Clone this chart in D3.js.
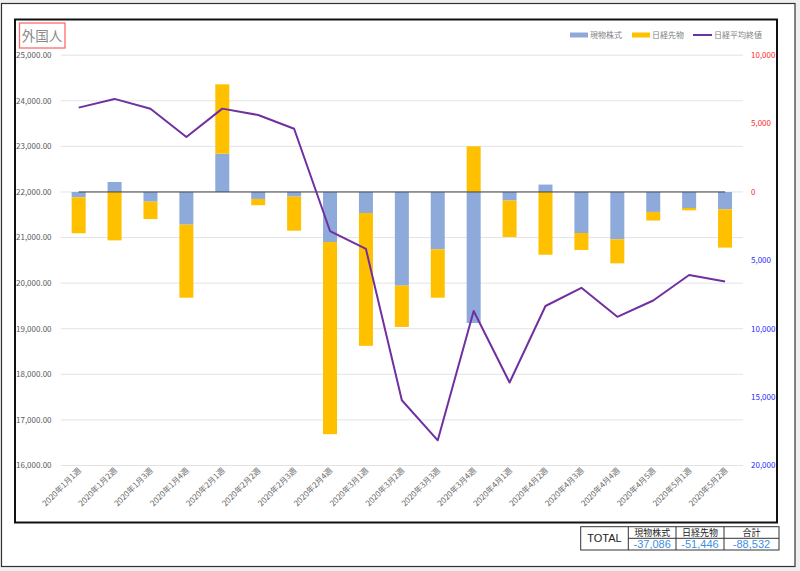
<!DOCTYPE html>
<html><head><meta charset="utf-8">
<script src="https://cdn.jsdelivr.net/npm/d3@7/dist/d3.min.js"></script>
<style>
html,body{margin:0;padding:0;background:#efefef;}
svg{display:block;}
text{font-family:"Noto Sans CJK JP","Noto Sans",sans-serif;}
.num{font-family:"Liberation Sans","Arial",sans-serif;}
</style></head>
<body>
<svg id="c" width="800" height="571"></svg>
<script>
const categories = ["2020年1月1週","2020年1月2週","2020年1月3週","2020年1月4週","2020年2月1週","2020年2月2週","2020年2月3週","2020年2月4週","2020年3月1週","2020年3月2週","2020年3月3週","2020年3月4週","2020年4月1週","2020年4月2週","2020年4月3週","2020年4月4週","2020年4月5週","2020年5月1週","2020年5月2週"];
const genbutsu = [-390, 730, -710, -2390, 2800, -510, -340, -3660, -1540, -6850, -4190, -9580, -630, 540, -3000, -3460, -1460, -1170, -1270];
const sakimono = [-2630, -3540, -1270, -5340, 5070, -460, -2490, -14050, -9710, -3020, -3540, 3340, -2660, -4590, -1240, -1760, -630, -170, -2800];
const nikkei = [23850.57, 24041.26, 23827.18, 23205.18, 23827.98, 23687.59, 23386.74, 21142.96, 20749.75, 17431.05, 16552.83, 19389.43, 17820.19, 19498.50, 19897.26, 19262.00, 19619.35, 20179.09, 20037.47];
const leftTicks = [16000,17000,18000,19000,20000,21000,22000,23000,24000,25000];
const rightTicks = [10000,5000,0,-5000,-10000,-15000,-20000];
const seriesNames = ["現物株式","日経先物","日経平均終値"];
const tableHeaders = ["現物株式","日経先物","合計"];
const tableTotals = ["-37,086","-51,446","-88,532"];
const title = "外国人";

const colors = {genbutsu:"#8eaadb", sakimono:"#ffc000", nikkei:"#7030a0"};
const svg = d3.select("#c");

// outer frame
svg.append("rect").attr("x",1.5).attr("y",3.5).attr("width",793.5).attr("height",563)
  .attr("fill","#fff").attr("stroke","#333").attr("stroke-width",1.2);
// chart box
svg.append("rect").attr("x",15).attr("y",19.5).attr("width",762).attr("height",503)
  .attr("fill","#fff").attr("stroke","#111").attr("stroke-width",2);

const x = d3.scaleBand().domain(categories).range([60.7,743]).paddingInner(0.61).paddingOuter(0.305);
const yL = d3.scaleLinear().domain([16000,25000]).range([465.5,55.2]);
const yR = d3.scaleLinear().domain([-20000,10000]).range([465.5,55.2]);
const cx = d => x(d) + x.bandwidth()/2;

// gridlines
svg.append("g").selectAll("line").data(leftTicks).join("line")
  .attr("x1",60.7).attr("x2",743).attr("y1",d=>yL(d)).attr("y2",d=>yL(d))
  .attr("stroke","#e3e3e3").attr("stroke-width",1);

// left axis labels
svg.append("g").selectAll("text").data(leftTicks).join("text")
  .attr("x",16).attr("y",d=>yL(d)).attr("dy","0.35em")
  .attr("font-size",8).attr("fill","#595959")
  .text(d=>d3.format(",.2f")(d));

// right axis labels
svg.append("g").selectAll("text").data(rightTicks).join("text")
  .attr("x",751).attr("y",d=>yR(d)).attr("dy","0.35em")
  .attr("font-size",8).attr("fill",d=>d>=0?"#ff2a2a":"#2a2aff")
  .text(d=>d3.format(",")(Math.abs(d)));

// stacked bars
const rows = categories.map((c,i)=>({cat:c, genbutsu:genbutsu[i], sakimono:sakimono[i]}));
const stack = d3.stack().keys(["genbutsu","sakimono"]).offset(d3.stackOffsetDiverging)(rows);
svg.append("g").selectAll("g").data(stack).join("g")
  .attr("fill",s=>colors[s.key])
  .selectAll("rect").data(s=>s).join("rect")
  .attr("x",d=>x(d.data.cat)).attr("width",x.bandwidth())
  .attr("y",d=>yR(Math.max(d[0],d[1]))).attr("height",d=>Math.abs(yR(d[0])-yR(d[1])));

// zero line
svg.append("line").attr("x1",cx(categories[0])).attr("x2",cx(categories[categories.length-1]))
  .attr("y1",yR(0)).attr("y2",yR(0)).attr("stroke","#404040").attr("stroke-width",1);

// nikkei line
svg.append("path").datum(nikkei)
  .attr("d",d3.line().x((d,i)=>cx(categories[i])).y(d=>yL(d)))
  .attr("fill","none").attr("stroke",colors.nikkei).attr("stroke-width",2).attr("stroke-linejoin","round");

// x labels
svg.append("g").selectAll("text").data(categories).join("text")
  .attr("transform",d=>`translate(${cx(d)+3},${471}) rotate(-45)`)
  .attr("text-anchor","end").attr("font-size",8).attr("fill","#6a6a6a")
  .text(d=>d);

// title
svg.append("rect").attr("x",19.5).attr("y",23).attr("width",45.5).attr("height",25)
  .attr("fill","none").attr("stroke","#ff6b6b").attr("stroke-width",1.3);
svg.append("text").attr("x",42).attr("y",36).attr("dy","0.36em").attr("text-anchor","middle")
  .attr("font-size",13.5).attr("fill","#8a8a8a").text(title);

// legend
const lg = svg.append("g");
lg.append("rect").attr("x",570).attr("y",32.5).attr("width",18).attr("height",5).attr("fill",colors.genbutsu);
lg.append("text").attr("x",590).attr("y",35).attr("dy","0.35em").attr("font-size",8).attr("fill","#7f7f7f").text(seriesNames[0]);
lg.append("rect").attr("x",632).attr("y",32.5).attr("width",18).attr("height",5).attr("fill",colors.sakimono);
lg.append("text").attr("x",652).attr("y",35).attr("dy","0.35em").attr("font-size",8).attr("fill","#7f7f7f").text(seriesNames[1]);
lg.append("line").attr("x1",693).attr("x2",712).attr("y1",35).attr("y2",35).attr("stroke",colors.nikkei).attr("stroke-width",2);
lg.append("text").attr("x",714).attr("y",35).attr("dy","0.35em").attr("font-size",8).attr("fill","#7f7f7f").text(seriesNames[2]);

// totals table
const tg = svg.append("g");
const tx = [580.7, 628.3, 676, 724, 779];
const ty = [526.7, 538.3, 550];
tg.append("rect").attr("x",tx[0]).attr("y",ty[0]).attr("width",tx[4]-tx[0]).attr("height",ty[2]-ty[0])
  .attr("fill","#fff").attr("stroke","#333").attr("stroke-width",1);
[1,2,3].forEach(i=>tg.append("line").attr("x1",tx[i]).attr("x2",tx[i]).attr("y1",ty[0]).attr("y2",ty[2]).attr("stroke","#333"));
tg.append("line").attr("x1",tx[1]).attr("x2",tx[4]).attr("y1",ty[1]).attr("y2",ty[1]).attr("stroke","#333");
tg.append("text").attr("class","num").attr("x",(tx[0]+tx[1])/2).attr("y",(ty[0]+ty[2])/2).attr("dy","0.36em").attr("text-anchor","middle")
  .attr("font-size",11).attr("fill","#222").text("TOTAL");
tableHeaders.forEach((h,i)=>{
  tg.append("text").attr("x",(tx[i+1]+tx[i+2])/2).attr("y",(ty[0]+ty[1])/2).attr("dy","0.34em").attr("text-anchor","middle")
    .attr("font-size",9).attr("fill","#222").text(h);
  tg.append("text").attr("class","num").attr("x",(tx[i+1]+tx[i+2])/2).attr("y",(ty[1]+ty[2])/2).attr("dy","0.38em").attr("text-anchor","middle")
    .attr("font-size",11).attr("fill","#3d8fe0").text(tableTotals[i]);
});
</script>
</body></html>
